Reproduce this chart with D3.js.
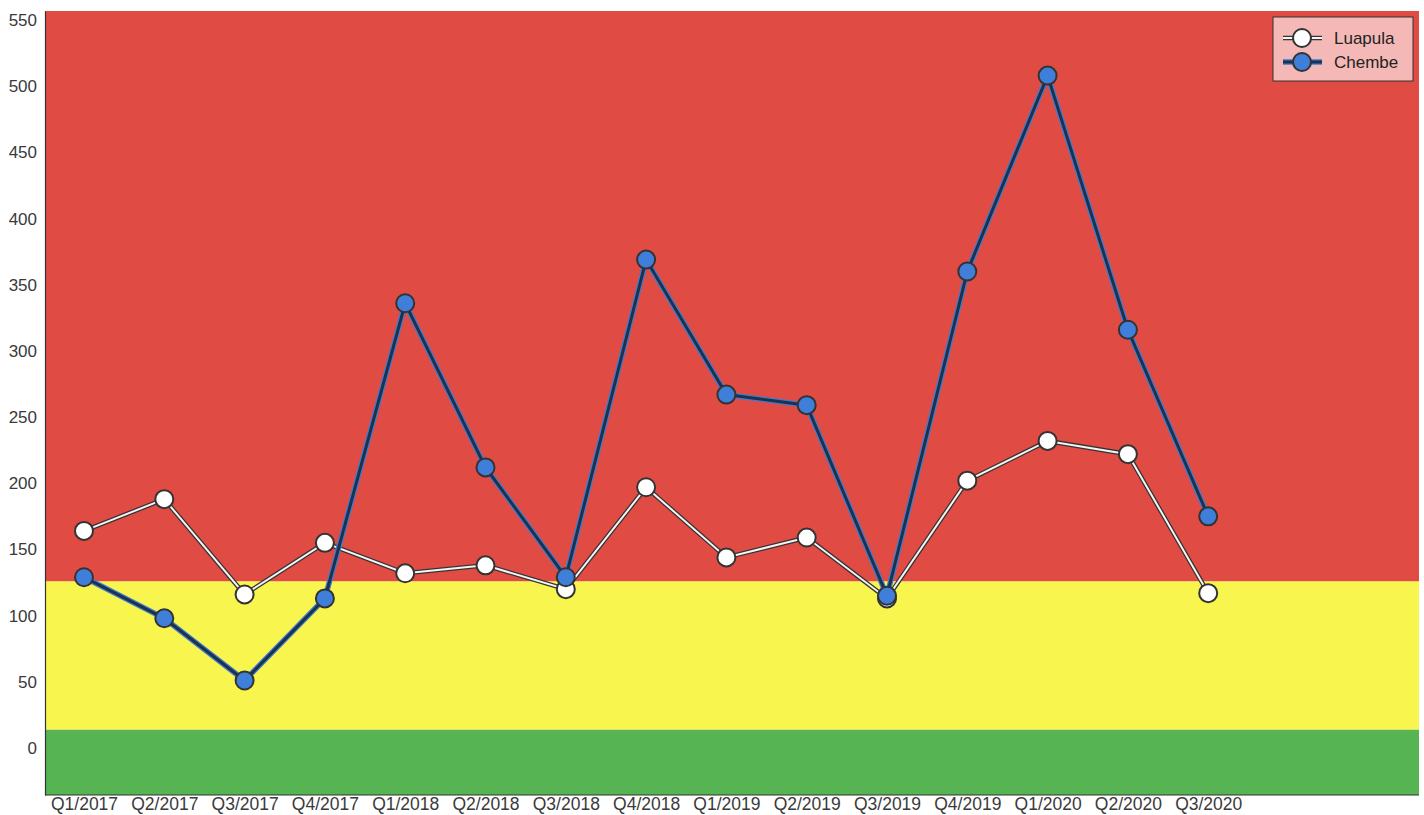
<!DOCTYPE html>
<html>
<head>
<meta charset="utf-8">
<script src="https://cdn.jsdelivr.net/npm/d3@7"></script>
<style>
  body { margin: 0; background: #fff; font-family: "Liberation Sans", Arial, sans-serif; }
</style>
</head>
<body>
<div id="chart"></div>
<script>
// Quarters on the x axis
const quarters = ["Q1/2017", "Q2/2017", "Q3/2017", "Q4/2017", "Q1/2018", "Q2/2018", "Q3/2018",
  "Q4/2018", "Q1/2019", "Q2/2019", "Q3/2019", "Q4/2019", "Q1/2020", "Q2/2020", "Q3/2020"];

// Series values
const luapula = [164, 188, 116, 155, 132, 138, 120, 197, 144, 159, 113, 202, 232, 222, 117];
const chembe = [129, 98, 51, 113, 336, 212, 129, 369, 267, 259, 115, 360, 508, 316, 175];

const yTicks = [0, 50, 100, 150, 200, 250, 300, 350, 400, 450, 500, 550];

// Background bands (value ranges)
const bands = [
  { from: -35.5, to: 14, color: "#57b452" },
  { from: 14, to: 126, color: "#f9f54f" },
  { from: 126, to: 556.8, color: "#e04b44" }
];

const W = 1424, H = 815;
const margin = { top: 11, right: 5, bottom: 20, left: 45 };
const width = W - margin.left - margin.right;
const height = H - margin.top - margin.bottom;

const svg = d3.select("#chart").append("svg")
  .attr("width", W)
  .attr("height", H);

const g = svg.append("g").attr("transform", `translate(${margin.left},${margin.top})`);

const step = 80.3;
const x = d3.scalePoint()
  .domain(quarters)
  .range([39, 39 + step * (quarters.length - 1)]);

const y = d3.scaleLinear()
  .domain([-35.5, 556.8])
  .range([height, 0]);

// bands
g.selectAll("rect.band").data(bands).enter().append("rect")
  .attr("class", "band")
  .attr("x", 0)
  .attr("width", width)
  .attr("y", d => y(d.to))
  .attr("height", d => y(d.from) - y(d.to))
  .attr("fill", d => d.color);

// axes
const yAxis = g.append("g")
  .call(d3.axisLeft(y).tickValues(yTicks).tickSize(0).tickPadding(8));
yAxis.select(".domain").attr("stroke", "#333").attr("stroke-width", 1.2);
yAxis.selectAll("text").attr("font-size", 17).attr("fill", "#3a3a3a")
  .attr("font-family", "Liberation Sans, Arial, sans-serif");

const xAxis = g.append("g")
  .attr("transform", `translate(0,${height})`)
  .call(d3.axisBottom(x).tickSize(0).tickPadding(3));
xAxis.select(".domain").attr("d", `M0,0H${width}`).attr("stroke", "#333").attr("stroke-width", 1.2);
xAxis.selectAll("text").attr("font-size", 17.5).attr("fill", "#3a3a3a")
  .attr("font-family", "Liberation Sans, Arial, sans-serif");

const line = d3.line()
  .x((d, i) => x(quarters[i]))
  .y(d => y(d));

const series = [
  { name: "Luapula", values: luapula, outer: "#333333", inner: "#f4f4f4", fill: "#ffffff", ow: 4.5, iw: 2 },
  { name: "Chembe", values: chembe, outer: "#3d7bd6", inner: "#1d3149", fill: "#3f7fd9", ow: 5.5, iw: 3 }
];

series.forEach(s => {
  g.append("path").datum(s.values)
    .attr("d", line)
    .attr("fill", "none")
    .attr("stroke", s.outer)
    .attr("stroke-width", s.ow);
  g.append("path").datum(s.values)
    .attr("d", line)
    .attr("fill", "none")
    .attr("stroke", s.inner)
    .attr("stroke-width", s.iw);
});

series.forEach(s => {
  g.selectAll(null).data(s.values).enter().append("circle")
    .attr("cx", (d, i) => x(quarters[i]))
    .attr("cy", d => y(d))
    .attr("r", 9)
    .attr("fill", s.fill)
    .attr("stroke", "#333")
    .attr("stroke-width", 2);
});

// legend
const legend = svg.append("g").attr("transform", "translate(1273,17)");
legend.append("rect")
  .attr("width", 140)
  .attr("height", 64)
  .attr("fill", "#f4b9b6")
  .attr("stroke", "#333")
  .attr("stroke-width", 1);

series.forEach((s, i) => {
  const ly = 21 + i * 24;
  legend.append("line")
    .attr("x1", 10).attr("x2", 49).attr("y1", ly).attr("y2", ly)
    .attr("stroke", s.outer).attr("stroke-width", s.ow);
  legend.append("line")
    .attr("x1", 10).attr("x2", 49).attr("y1", ly).attr("y2", ly)
    .attr("stroke", s.inner).attr("stroke-width", s.iw);
  legend.append("circle")
    .attr("cx", 29).attr("cy", ly).attr("r", 9)
    .attr("fill", s.fill).attr("stroke", "#333").attr("stroke-width", 2);
  legend.append("text")
    .attr("x", 61).attr("y", ly)
    .attr("dy", "0.35em")
    .attr("font-size", 17)
    .attr("fill", "#222")
    .text(s.name);
});
</script>
</body>
</html>
